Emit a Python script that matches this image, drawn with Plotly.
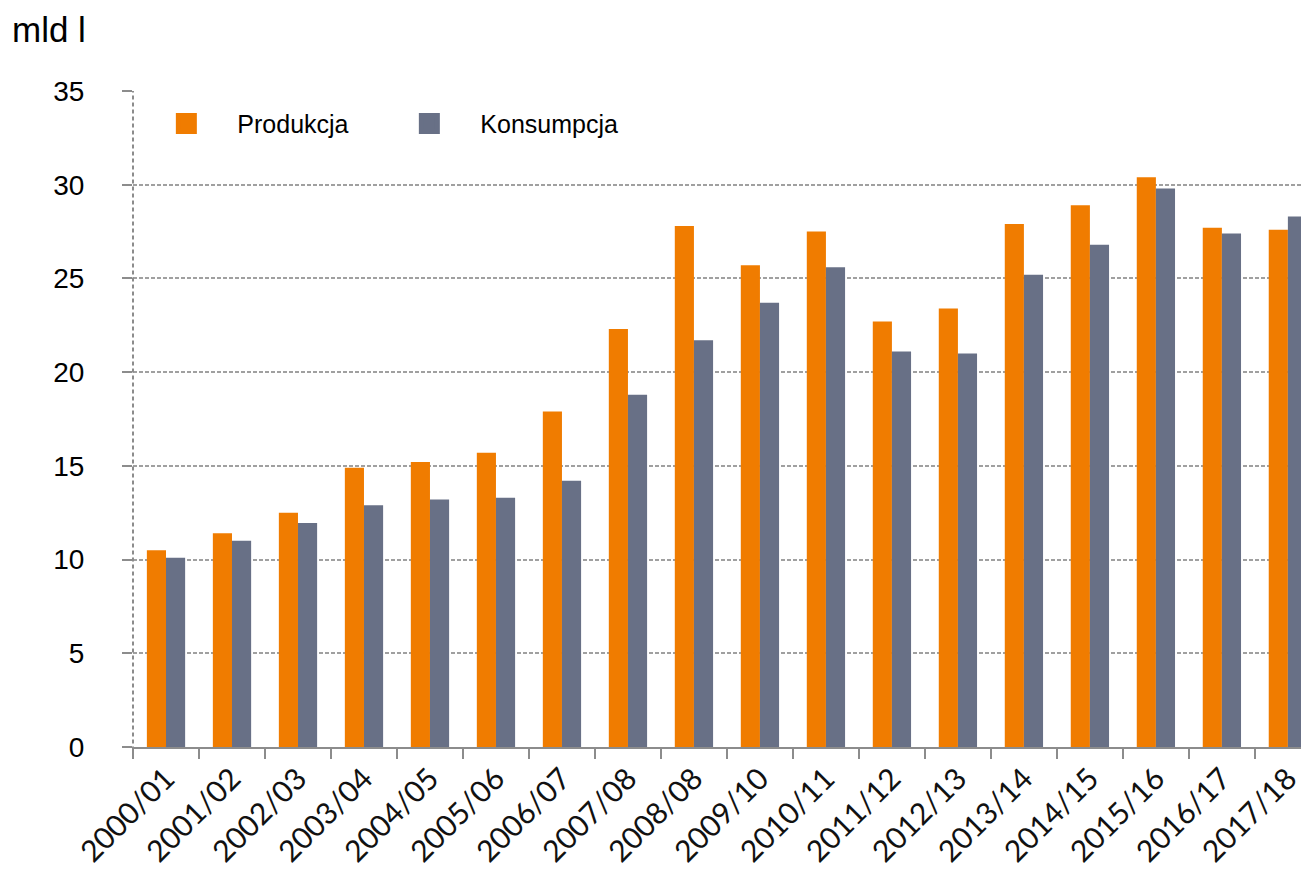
import plotly.graph_objects as go

seasons = ["2000/01", "2001/02", "2002/03", "2003/04", "2004/05", "2005/06",
           "2006/07", "2007/08", "2008/08", "2009/10", "2010/11", "2011/12",
           "2012/13", "2013/14", "2014/15", "2015/16", "2016/17", "2017/18"]
produkcja = [10.5, 11.4, 12.5, 14.9, 15.2, 15.7, 17.9, 22.3, 27.8, 25.7,
             27.5, 22.7, 23.4, 27.9, 28.9, 30.4, 27.7, 27.6]
konsumpcja = [10.1, 11.0, 11.95, 12.9, 13.2, 13.3, 14.2, 18.8, 21.7, 23.7,
              25.6, 21.1, 21.0, 25.2, 26.8, 29.8, 27.4, 28.3]
y_ticks = [0, 5, 10, 15, 20, 25, 30, 35]

ORANGE = "#f07c00"
GREY = "#687086"
AXIS = "#8c8c8c"

fig = go.Figure()
fig.add_trace(go.Bar(x=seasons, y=produkcja, name="Produkcja",
                     marker=dict(color=ORANGE, line_width=0), showlegend=False))
fig.add_trace(go.Bar(x=seasons, y=konsumpcja, name="Konsumpcja",
                     marker=dict(color=GREY, line_width=0), showlegend=False))

# legend-only entries so the squares come out bigger than the default bar swatch
for nm, col in [("Produkcja", ORANGE), ("Konsumpcja", GREY)]:
    fig.add_trace(go.Scatter(x=[None], y=[None], mode="markers", name=nm,
                             marker=dict(symbol="square", size=16, color=col,
                                         line=dict(color=col, width=6))))

# page body adds 8px margin, so the figure is 8px smaller than the window
fig.update_layout(
    width=1301, height=879,
    margin=dict(l=125, r=0, t=83, b=140),
    paper_bgcolor="white", plot_bgcolor="white",
    barmode="group", bargap=0.42, bargroupgap=0,
    font=dict(family="Liberation Sans, Arial", color="black"),
    legend=dict(orientation="h", x=0.002, y=0.985, xanchor="left", yanchor="top",
                font=dict(size=25), itemwidth=92, bgcolor="rgba(0,0,0,0)",
                entrywidth=136, itemsizing="trace"),
    annotations=[dict(text="mld l", xref="paper", yref="paper", x=-0.105, y=1.093,
                      xanchor="left", yanchor="middle", showarrow=False,
                      font=dict(size=35, color="black"))],
    shapes=[dict(type="line", xref="paper", yref="paper", x0=0, x1=0, y0=-0.016, y1=1,
                 line=dict(color=AXIS, width=2, dash="4px,3px"))],
)
fig.update_xaxes(range=[-0.5, 17.32], tickangle=-45, tickson="boundaries",
                 ticks="outside", ticklen=10, tickcolor=AXIS, tickwidth=2,
                 showline=True, linecolor=AXIS, linewidth=2, showgrid=False,
                 tickfont=dict(family="Lato", size=30, color="#111"))
fig.update_yaxes(range=[0, 35], tickvals=y_ticks, showgrid=True, gridcolor="#a0a0a0",
                 griddash="4px,2px", gridwidth=1.5, zeroline=False, showline=False,
                 ticks="outside", ticklen=10, tickcolor=AXIS, tickwidth=2,
                 tickfont=dict(size=28), ticklabelstandoff=32)

fig.write_html("out.html")
